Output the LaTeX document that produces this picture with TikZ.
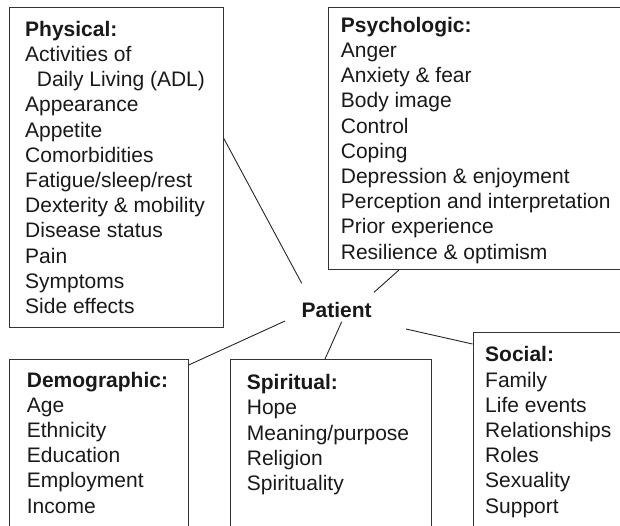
\documentclass[tikz,border=0pt]{standalone}
\usepackage{fontspec}
\setmainfont{Liberation Sans}
\begin{document}
\begin{tikzpicture}[x=1pt,y=-1pt,
  box/.style={draw=black!80, line width=1pt, anchor=north west, inner sep=0pt},
  list/.style={anchor=base west, align=left, inner sep=0pt,
    font=\fontsize{21}{25.2}\selectfont, text=black!90},
  link/.style={draw=black!85, line width=0.9pt}]
\clip (0,0) rectangle (620,525);
\useasboundingbox (0,0) rectangle (620,525);

% category frames
\node[box, minimum width=213.7pt, minimum height=319.7pt] (phys) at (9,7) {};
\node[box, minimum width=300pt, minimum height=262pt] (psych) at (328,7) {};
\node[box, minimum width=179.2pt, minimum height=200pt] (demog) at (8.5,359) {};
\node[box, minimum width=200.7pt, minimum height=200pt] (spirit) at (230,359) {};
\node[box, minimum width=200pt, minimum height=230pt] (social) at (472.5,332) {};

% category contents (each placed by the baseline of its last line)
\node[list] (physT) at (25,313.5) {\textbf{Physical:}\\Activities of\\\hspace*{11.7pt}Daily Living (ADL)\\Appearance\\Appetite\\Comorbidities\\Fatigue/sleep/rest\\Dexterity \& mobility\\Disease status\\Pain\\Symptoms\\Side effects};
\node[list] (psychT) at (340.7,259) {\textbf{Psychologic:}\\Anger\\Anxiety \& fear\\Body image\\Control\\Coping\\Depression \& enjoyment\\Perception and interpretation\\Prior experience\\Resilience \& optimism};
\node[list] (demogT) at (26.7,513) {\textbf{Demographic:}\\Age\\Ethnicity\\Education\\Employment\\Income};
\node[list] (spiritT) at (246.7,490.5) {\textbf{Spiritual:}\\Hope\\Meaning/purpose\\Religion\\Spirituality};
\node[list] (socialT) at (485,513) {\textbf{Social:}\\Family\\Life events\\Relationships\\Roles\\Sexuality\\Support};

% centre
\node[anchor=base, inner sep=0pt, font=\fontsize{21}{25}\selectfont\bfseries, text=black!90] (patient) at (336.7,317) {Patient};

% spokes
\draw[link] ([shift={(0,131.3)}]phys.north east) -- ([shift={(-35,-33.7)}]patient.base);
\draw[link] ([shift={(71,0)}]psych.south west) -- ([shift={(37.3,-24.7)}]patient.base);
\draw[link] ([shift={(0,6)}]demog.north east) -- ([shift={(-51.7,4)}]patient.base);
\draw[link] ([shift={(95,0)}]spirit.north west) -- ([shift={(5,4.7)}]patient.base);
\draw[link] ([shift={(0,12)}]social.north west) -- ([shift={(69.3,12)}]patient.base);
\end{tikzpicture}
\end{document}
